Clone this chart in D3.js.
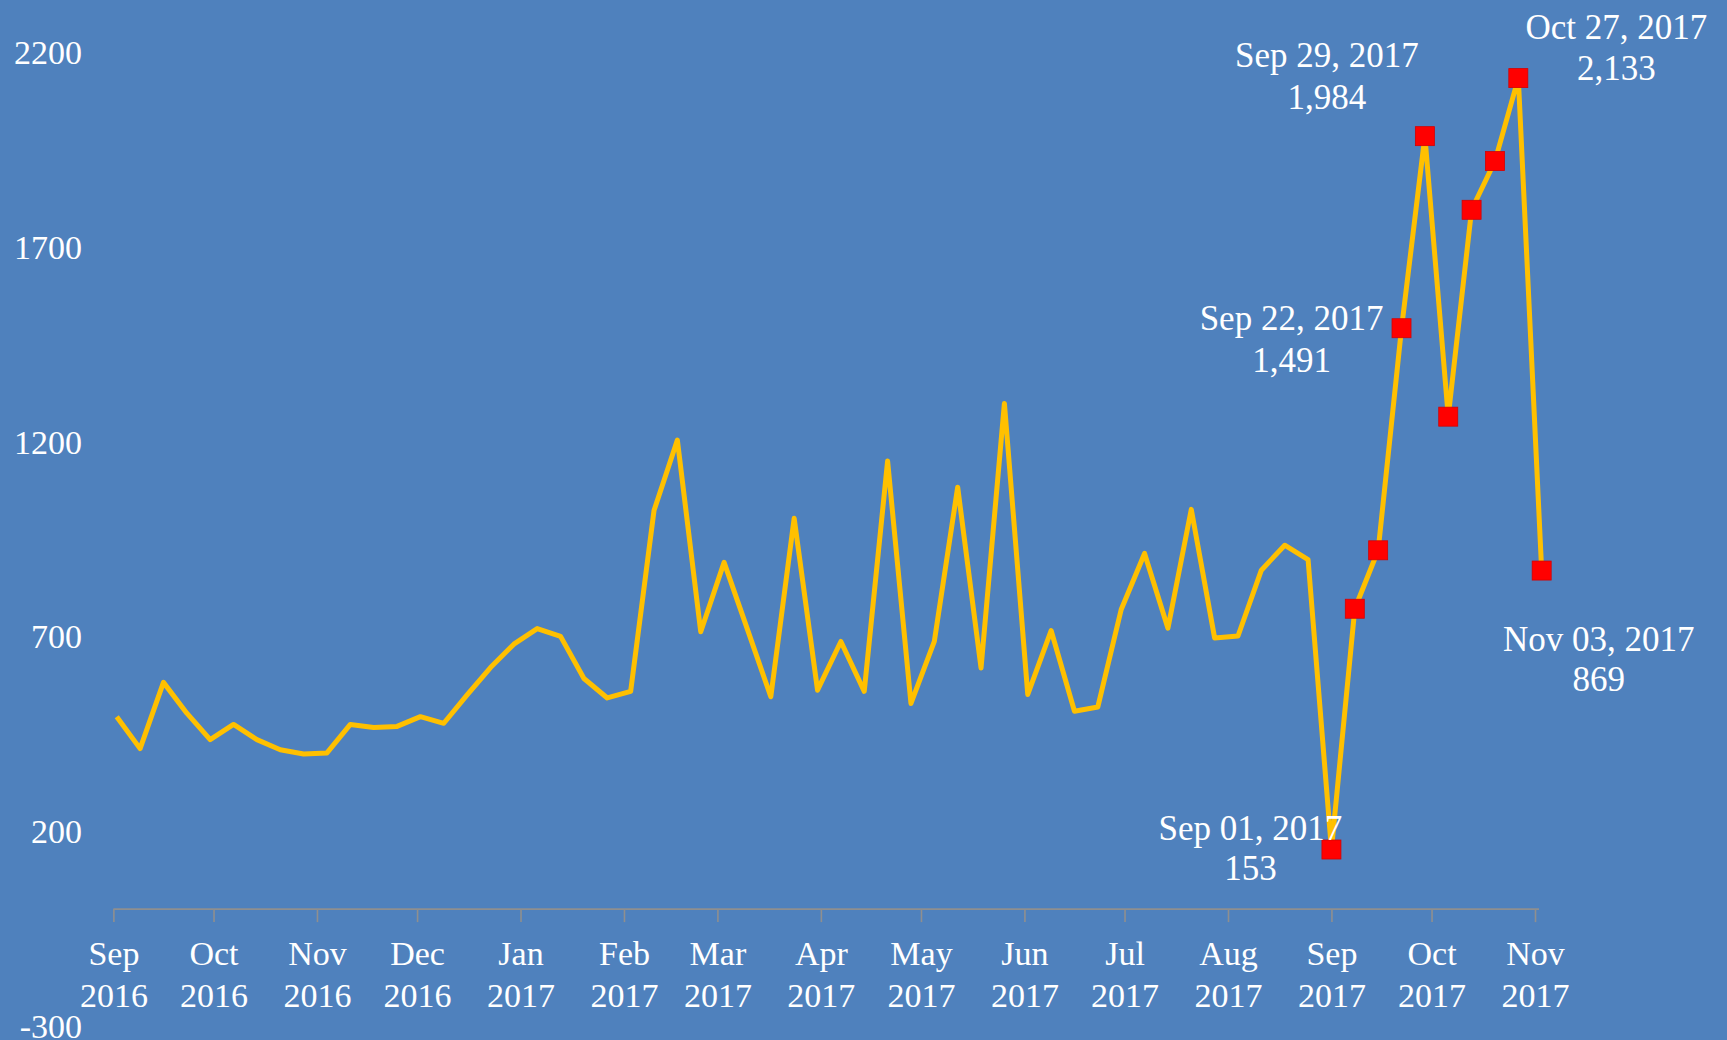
<!DOCTYPE html>
<html>
<head>
<meta charset="utf-8">
<script src="https://cdn.jsdelivr.net/npm/d3@7"></script>
<style>
  html, body { margin: 0; padding: 0; background: #4f81bd; }
  svg { display: block; }
  text { font-family: "Liberation Serif", "DejaVu Serif", serif; fill: #fff; }
</style>
</head>
<body>
<script>
var width = 1727;
var height = 1040;

// weekly values, one per Friday starting Sep 2, 2016
var firstWeek = "2016-09-02";
var weeklyValues = [
  494, 412, 582, 503, 435, 474, 435, 409, 398, 401,
  474, 466, 469, 494, 477, 550, 620, 680, 720, 700,
  592, 542, 559, 1023, 1204, 712, 890, 718, 545, 1003,
  562, 687, 559, 1150, 528, 687, 1083, 619, 1298, 551,
  715, 508, 519, 769, 913, 721, 1026, 696, 701, 870,
  934, 897, 153, 771, 921, 1491, 1984, 1264, 1795, 1920,
  2133, 869
];

// weeks marked in red from this date on
var markFrom = "2017-09-01";
// weeks that carry a date / value label
var labelledWeeks = ["2017-09-01", "2017-09-22", "2017-09-29", "2017-10-27", "2017-11-03"];

var yTicks = [2200, 1700, 1200, 700, 200, -300];
var monthStart = "2016-09-01";
var monthEnd = "2017-11-01";

// label placement relative to the marker (px)
var labelOffset = {
  "2017-09-01": [-81, -21, 19],
  "2017-09-22": [-110, -10, 32],
  "2017-09-29": [-98, -81, -39],
  "2017-10-27": [98, -51, -10],
  "2017-11-03": [57, 69, 109]
};

var parse = d3.timeParse("%Y-%m-%d");
var fmtKey = d3.timeFormat("%Y-%m-%d");
var fmtDate = d3.timeFormat("%b %d, %Y");
var fmtNum = d3.format(",");

var start = parse(firstWeek);
var weeks = d3.timeFriday.range(start, d3.timeDay.offset(start, weeklyValues.length * 7));
var data = weeks.map(function(d, i) { return { date: d, value: weeklyValues[i] }; });

var x = d3.scaleTime()
  .domain([parse(monthStart), parse(monthEnd)])
  .range([113.4, 1535]);
var y = d3.scaleLinear()
  .domain([-300, 2200])
  .range([1026, 52]);

var svg = d3.select("body").append("svg")
  .attr("width", width)
  .attr("height", height)
  .style("background", "#4f81bd");

// x axis at zero
var months = d3.timeMonth.range(parse(monthStart), d3.timeDay.offset(parse(monthEnd), 1));
var xAxis = svg.append("g")
  .attr("transform", "translate(0," + y(0) + ")")
  .call(d3.axisBottom(x).tickValues(months).tickSize(13).tickSizeOuter(0));
xAxis.selectAll("path, line").attr("stroke", "#8f8f8f").attr("stroke-width", 1.6);
xAxis.select(".domain").attr("d", "M" + x.range()[0] + ",0H" + (x.range()[1] + 4));
xAxis.selectAll("text").each(function(d) {
  var t = d3.select(this).text("").attr("y", null).attr("dy", null)
    .attr("text-anchor", "middle")
    .style("font-size", "34px");
  t.append("tspan").attr("x", 0).attr("y", 56).text(d3.timeFormat("%b")(d));
  t.append("tspan").attr("x", 0).attr("y", 98).text(d3.timeFormat("%Y")(d));
});
xAxis.selectAll("text").attr("fill", "#fff");

// y labels (plain hyphen for the minus sign)
var yAxis = svg.append("g")
  .attr("transform", "translate(82,0)")
  .call(d3.axisLeft(y).tickValues(yTicks).tickSize(0).tickPadding(0).tickFormat(String));
yAxis.select(".domain").remove();
yAxis.selectAll("text").attr("fill", "#fff").style("font-size", "34px").attr("dy", "0.34em");

// line
var line = d3.line()
  .x(function(d) { return x(d.date); })
  .y(function(d) { return y(d.value); });

svg.append("path")
  .datum(data)
  .attr("fill", "none")
  .attr("stroke", "#ffc000")
  .attr("stroke-width", 5)
  .attr("stroke-linejoin", "round")
  .attr("d", line);

// markers
var marked = data.filter(function(d) { return d.date >= parse(markFrom); });
svg.selectAll("rect.mark")
  .data(marked)
  .enter().append("rect")
  .attr("class", "mark")
  .attr("x", function(d) { return x(d.date) - 9.5; })
  .attr("y", function(d) { return y(d.value) - 9.5; })
  .attr("width", 19)
  .attr("height", 19)
  .attr("fill", "#ff0000")
  .attr("stroke", "#d40000")
  .attr("stroke-width", 0.8);

// labels
var labelled = data.filter(function(d) { return labelledWeeks.indexOf(fmtKey(d.date)) >= 0; });
var lab = svg.selectAll("g.lab")
  .data(labelled)
  .enter().append("g")
  .attr("class", "lab")
  .attr("transform", function(d) { return "translate(" + x(d.date) + "," + y(d.value) + ")"; });

lab.each(function(d) {
  var o = labelOffset[fmtKey(d.date)];
  var g = d3.select(this);
  g.append("text")
    .attr("x", o[0]).attr("y", o[1]).attr("dy", "0.34em")
    .attr("text-anchor", "middle")
    .style("font-size", "35px")
    .text(fmtDate(d.date));
  g.append("text")
    .attr("x", o[0]).attr("y", o[2]).attr("dy", "0.34em")
    .attr("text-anchor", "middle")
    .style("font-size", "35px")
    .text(fmtNum(d.value));
});
</script>
</body>
</html>
